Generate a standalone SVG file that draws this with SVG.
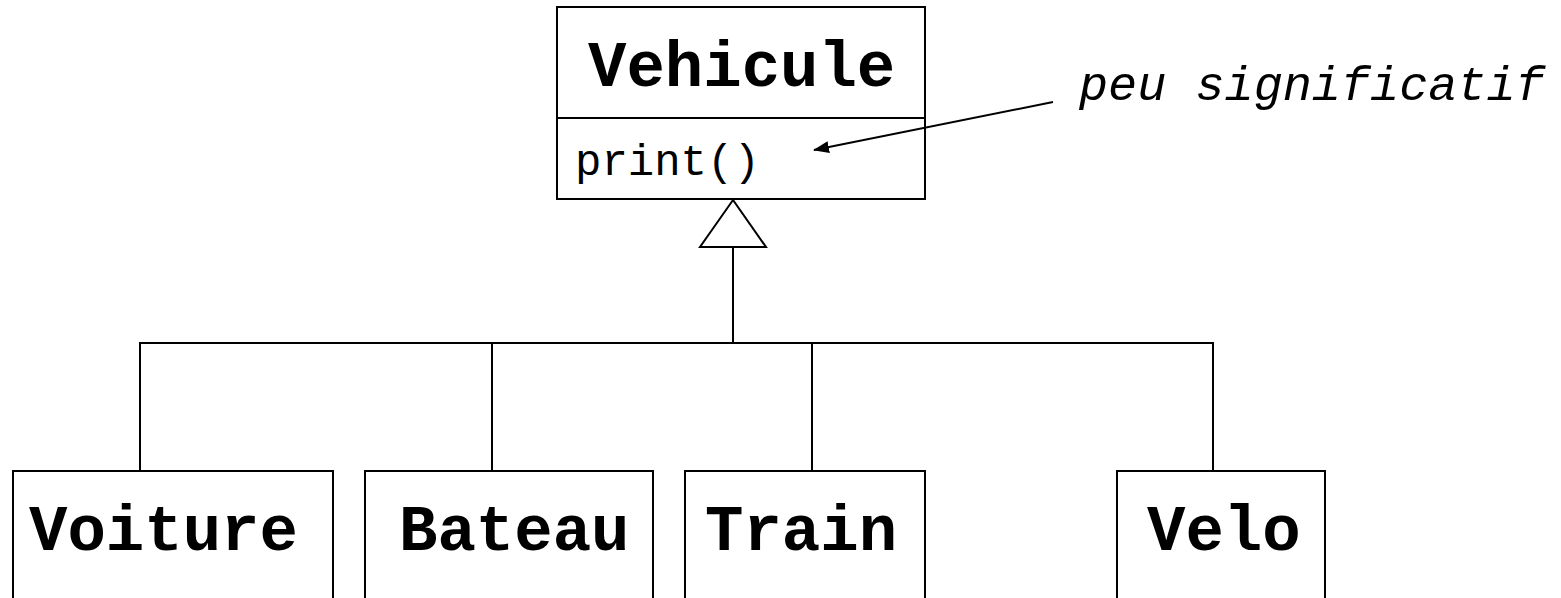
<svg xmlns="http://www.w3.org/2000/svg" width="1561" height="598" viewBox="0 0 1561 598">
<style>
.box{fill:#fff;stroke:#000;stroke-width:2}
.ln{fill:none;stroke:#000;stroke-width:2}
.cls{font-family:"Liberation Mono","Courier New",monospace;font-weight:bold;font-size:64px;fill:#000}
.op{font-family:"Liberation Mono","Courier New",monospace;font-size:44px;fill:#000}
.note{font-family:"Liberation Mono","Courier New",monospace;font-style:italic;font-size:48.5px;fill:#000}
</style>
<defs>
<marker id="ah" viewBox="0 0 16 12" refX="15" refY="6" markerWidth="16" markerHeight="12" markerUnits="userSpaceOnUse" orient="auto">
<path d="M0,0 L16,6 L0,12 z" fill="#000"/>
</marker>
</defs>
<rect width="1561" height="598" fill="#fff"/>
<g id="Vehicule">
<rect class="box" x="557" y="7" width="368" height="192"/>
<line class="ln" x1="557" y1="118" x2="925" y2="118"/>
<text class="cls" x="588" y="86">Vehicule</text>
<text class="op" x="575" y="175">print()</text>
</g>
<g id="note">
<text class="note" x="1079" y="100">peu significatif</text>
</g>
<g id="Voiture">
<rect class="box" x="13" y="471" width="320" height="140"/>
<text class="cls" x="29" y="550">Voiture</text>
</g>
<g id="Bateau">
<rect class="box" x="365" y="471" width="288" height="140"/>
<text class="cls" x="399" y="550">Bateau</text>
</g>
<g id="Train">
<rect class="box" x="685" y="471" width="240" height="140"/>
<text class="cls" x="705" y="550">Train</text>
</g>
<g id="Velo">
<rect class="box" x="1117" y="471" width="208" height="140"/>
<text class="cls" x="1147" y="550">Velo</text>
</g>
<g id="connectors">
<polyline class="ln" points="733,247 733,343"/>
<polyline class="ln" points="140,471 140,343 1213,343 1213,471"/>
<line class="ln" x1="492" y1="343" x2="492" y2="471"/>
<line class="ln" x1="812" y1="343" x2="812" y2="471"/>
<polygon class="box" points="733,200 700,247 766,247"/>
<line class="ln" x1="1053" y1="102" x2="814" y2="150" marker-end="url(#ah)"/>
</g>
</svg>
